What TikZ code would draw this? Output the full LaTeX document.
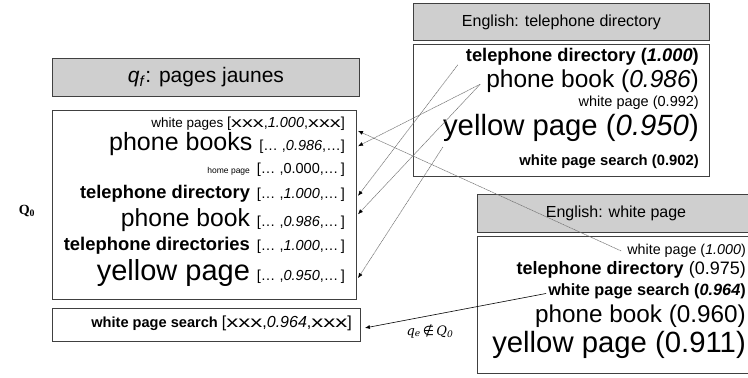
\documentclass[tikz,border=0pt]{standalone}
\usepackage{fontspec}
\usepackage{graphicx}
\setmainfont{Liberation Sans}
\newfontfamily\qfont{Liberation Serif}
\newfontfamily\lblfont{DejaVu Serif}
\newfontfamily\symfont{DejaVu Sans}
\usetikzlibrary{arrows.meta,calc}

\definecolor{boxline}{gray}{0.25}
\definecolor{hdrfill}{gray}{0.81}
\definecolor{linkgray}{gray}{0.45}

% font size helper
\newcommand{\fs}[1]{\fontsize{#1}{#1}\selectfont}
% wide placeholder crosses
\newcommand{\xxx}{\scalebox{1.5}[1]{xxx}}
% gap between a term and its score vector
\newcommand{\gap}{\hspace{7pt}}

\begin{document}
\begin{tikzpicture}[x=1pt,y=-1pt,
  panel/.style={draw=boxline, line width=0.9pt, fill=white, inner sep=0pt, anchor=north west},
  header/.style={panel, fill=hdrfill},
  htext/.style={inner sep=0pt, text=black},
  entry/.style={inner sep=0pt, anchor=mid east, text=black},
  link/.style={draw=linkgray, line width=0.55pt, dash pattern=on 1.2pt off 0.5pt,
               -{Latex[length=5pt,width=4pt,black]}},
  mainlink/.style={draw=black, line width=0.6pt, -{Latex[length=5pt,width=4pt,black]}}
]
\useasboundingbox (0,0) rectangle (748,378);
\clip (0,0) rectangle (748,378);

% ---- left: French query and its candidate set Q0 ----
\node[header, minimum width=307pt, minimum height=38pt] (lhdr) at (52,58) {};
\node[htext] at (lhdr.center) {\fs{21}\textit{q}\textsubscript{\textit{f}}: pages jaunes};

\node[panel, minimum width=304pt, minimum height=189pt] (lbox) at (52,110) {};
\node[entry] (l1) at (345,125) {\fs{13.5}white pages \fs{14.5}[\xxx,\textit{1.000},\xxx]};
\node[entry] (l2) at (345,148) {\fs{25}phone books\gap\fs{14.5}[\dots\ ,\textit{0.986},\dots]};
\node[entry] (l3) at (345,171) {\fs{8.5}home page\gap\fs{14.5}[\dots\ ,0.000,\dots\,]};
\node[entry] (l4) at (345,196) {\fs{18.3}\textbf{telephone directory}\gap\fs{14.5}[\dots\ ,\textit{1.000},\dots\,]};
\node[entry] (l5) at (345,224) {\fs{24.7}phone book\gap\fs{14.5}[\dots\ ,\textit{0.986},\dots\,]};
\node[entry] (l6) at (345,248) {\fs{18.4}\textbf{telephone directories}\gap\fs{14.5}[\dots\ ,\textit{1.000},\dots\,]};
\node[entry] (l7) at (345,278) {\fs{29}yellow page\gap\fs{14.5}[\dots\ ,\textit{0.950},\dots\,]};

\node[panel, minimum width=308pt, minimum height=33pt] (lbot) at (52,308) {};
\node[entry] (l8) at (352,325) {\fs{14.6}\textbf{white page search} \fs{16}[\xxx,\textit{0.964},\xxx]};

\node[inner sep=0pt] (q0) at (27,211) {\qfont\fs{14}\textbf{Q}\textsubscript{\textbf{0}}};

% ---- right top: English translation "telephone directory" ----
\node[header, minimum width=296pt, minimum height=37pt] (rhdr) at (413,3) {};
\node[htext] at (rhdr.center) {\fs{16}English: telephone directory};

\node[panel, minimum width=296pt, minimum height=132pt] (rbox) at (413,44) {};
\node[entry] (r1) at (699,59)  {\fs{18.3}\textbf{telephone directory (\textit{1.000})}};
\node[entry] (r2) at (699,85)  {\fs{24.5}phone book (\textit{0.986})};
\node[entry] (r3) at (699,104) {\fs{14.5}white page (0.992)};
\node[entry] (r4) at (699,133) {\fs{29.3}yellow page (\textit{0.950})};
\node[entry] (r5) at (699,163) {\fs{14.8}\textbf{white page search (0.902)}};

% ---- right bottom: English translation "white page" ----
\node[header, minimum width=275pt, minimum height=38pt] (whdr) at (477,194) {};
\node[htext] at (616,213) {\fs{16}English: white page};

\node[panel, minimum width=275pt, minimum height=137pt] (wbox) at (477,236) {};
\node[entry] (w1) at (746,252) {\fs{14.3}white page (\textit{1.000})};
\node[entry] (w2) at (746,272) {\fs{18}\textbf{telephone directory} (0.975)};
\node[entry] (w3) at (746,293) {\fs{16.3}\textbf{white page search (\textit{0.964})}};
\node[entry] (w4) at (746,320) {\fs{24.3}phone book (0.960)};
\node[entry] (w5) at (746,350) {\fs{29.3}yellow page (0.911)};

% ---- translation links into Q0 ----
\draw[link] ($(r1.west)+(-8,8)$) -- ($(l4.east)+(13,2)$);
\draw[link] ($(r2.west)+(-6,3)$) -- ($(l2.east)+(13,2)$);
\draw[link] ($(r2.west)+(-6,3)$) -- ($(l5.east)+(13,-6)$);
\draw[link] ($(r4.west)+(0,19)$) -- ($(l7.east)+(13,5)$);
\draw[link] ($(w1.west)+(-6,0)$) -- ($(l1.east)+(13,7)$);

% ---- expansion outside Q0 ----
\draw[mainlink] ($(w3.west)+(-2,2)$) -- ($(lbot.east)+(4,3)$);
\node[inner sep=0pt] (qe) at (430,331) {\lblfont\itshape\fs{13}q\textsubscript{e}\,{\symfont\upshape ∉}\,Q\textsubscript{0}};
\end{tikzpicture}
\end{document}
